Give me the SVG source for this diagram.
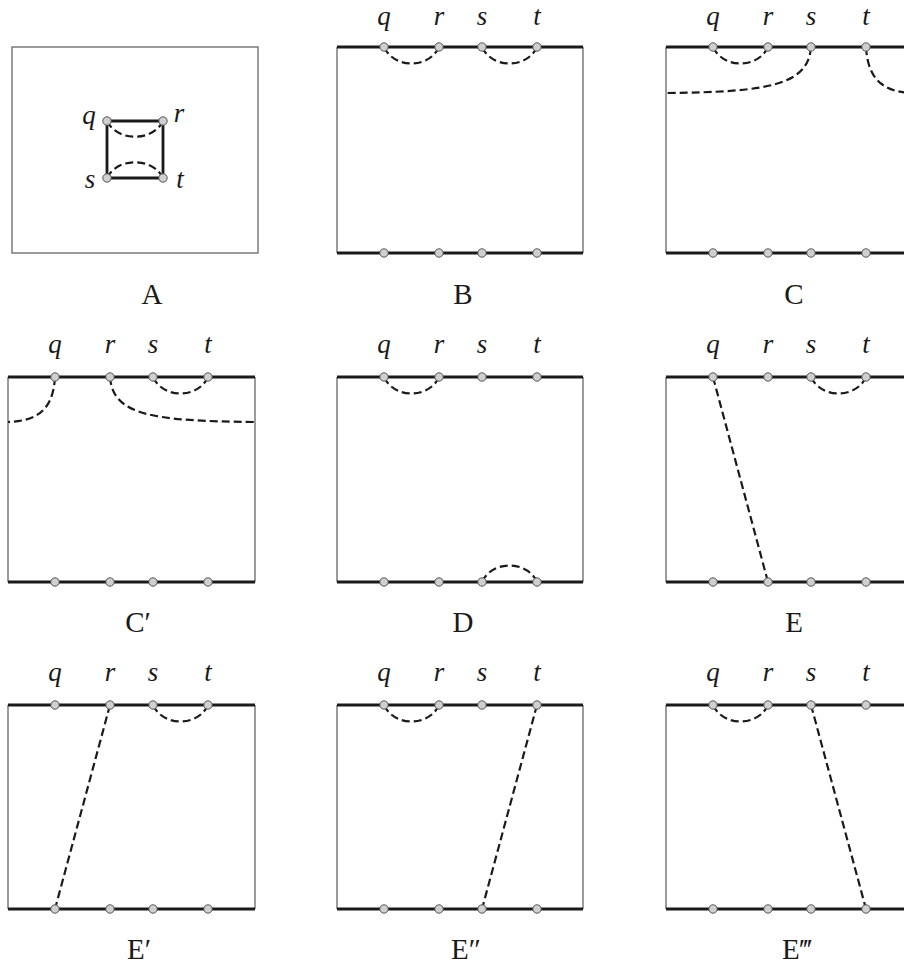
<svg xmlns="http://www.w3.org/2000/svg" width="904" height="969" viewBox="0 0 904 969">
<style>
.side{stroke:#666;stroke-width:1.3;fill:none}
.edge{stroke:#1a1a1a;stroke-width:2.8;fill:none}
.dash{stroke:#1a1a1a;stroke-width:2.2;fill:none;stroke-dasharray:8 4}
.nd{fill:#cfcfcf;stroke:#555;stroke-width:1}
.var{font-family:"Liberation Serif",serif;font-style:italic;font-size:27px;fill:#1a1a1a;text-anchor:middle}
.lab{font-family:"Liberation Serif",serif;font-size:29px;fill:#1a1a1a;text-anchor:middle}
</style>
<rect width="904" height="969" fill="#fff"/>

<!-- Panel A -->
<g id="panelA">
<rect x="12" y="47" width="246" height="206" class="side"/>
<path d="M107,121 H163 V178 H107 Z" class="edge"/>
<path d="M107,121 C117,142 153,142 163,121" class="dash"/>
<path d="M107,178 C117,157 153,157 163,178" class="dash"/>
<circle cx="107" cy="121" r="4.2" class="nd"/><circle cx="163" cy="121" r="4.2" class="nd"/>
<circle cx="107" cy="178" r="4.2" class="nd"/><circle cx="163" cy="178" r="4.2" class="nd"/>
<text x="89" y="124" class="var">q</text><text x="179" y="122" class="var">r</text>
<text x="90" y="188" class="var">s</text><text x="180" y="188" class="var">t</text>
<text x="152" y="304" class="lab">A</text>
</g>

<!-- Panel B -->
<g id="panelB">
<line x1="337" y1="47" x2="337" y2="253" class="side"/><line x1="583" y1="47" x2="583" y2="253" class="side"/>
<line x1="337" y1="47" x2="583" y2="47" class="edge"/><line x1="337" y1="253" x2="583" y2="253" class="edge"/>
<path d="M384,47 C394,69 429,69 439,47" class="dash"/>
<path d="M482,47 C492,69 527,69 537,47" class="dash"/>
<g><circle cx="384" cy="47" r="4.2" class="nd"/><circle cx="439" cy="47" r="4.2" class="nd"/><circle cx="482" cy="47" r="4.2" class="nd"/><circle cx="537" cy="47" r="4.2" class="nd"/>
<circle cx="384" cy="253" r="4.2" class="nd"/><circle cx="439" cy="253" r="4.2" class="nd"/><circle cx="482" cy="253" r="4.2" class="nd"/><circle cx="537" cy="253" r="4.2" class="nd"/></g>
<text x="384" y="25" class="var">q</text><text x="439" y="25" class="var">r</text><text x="482" y="25" class="var">s</text><text x="537" y="25" class="var">t</text>
<text x="463" y="304" class="lab">B</text>
</g>

<!-- Panel C -->
<g id="panelC">
<line x1="666" y1="47" x2="666" y2="253" class="side"/>
<line x1="666" y1="47" x2="912" y2="47" class="edge"/><line x1="666" y1="253" x2="912" y2="253" class="edge"/>
<path d="M713,47 C723,69 758,69 768,47" class="dash"/>
<path d="M811,47 C808,85 770,92 666,93" class="dash"/>
<path d="M866,47 C868,82 886,92 912,93" class="dash"/>
<g><circle cx="713" cy="47" r="4.2" class="nd"/><circle cx="768" cy="47" r="4.2" class="nd"/><circle cx="811" cy="47" r="4.2" class="nd"/><circle cx="866" cy="47" r="4.2" class="nd"/>
<circle cx="713" cy="253" r="4.2" class="nd"/><circle cx="768" cy="253" r="4.2" class="nd"/><circle cx="811" cy="253" r="4.2" class="nd"/><circle cx="866" cy="253" r="4.2" class="nd"/></g>
<text x="713" y="25" class="var">q</text><text x="768" y="25" class="var">r</text><text x="811" y="25" class="var">s</text><text x="866" y="25" class="var">t</text>
<text x="794" y="304" class="lab">C</text>
</g>

<!-- Panel C' -->
<g id="panelCp">
<line x1="8" y1="377" x2="8" y2="582" class="side"/><line x1="255" y1="377" x2="255" y2="582" class="side"/>
<line x1="8" y1="377" x2="255" y2="377" class="edge"/><line x1="8" y1="582" x2="255" y2="582" class="edge"/>
<path d="M55,377 C53,412 35,421 8,422" class="dash"/>
<path d="M110,377 C113,415 151,421 255,422" class="dash"/>
<path d="M153,377 C163,399 198,399 208,377" class="dash"/>
<g><circle cx="55" cy="377" r="4.2" class="nd"/><circle cx="110" cy="377" r="4.2" class="nd"/><circle cx="153" cy="377" r="4.2" class="nd"/><circle cx="208" cy="377" r="4.2" class="nd"/>
<circle cx="55" cy="582" r="4.2" class="nd"/><circle cx="110" cy="582" r="4.2" class="nd"/><circle cx="153" cy="582" r="4.2" class="nd"/><circle cx="208" cy="582" r="4.2" class="nd"/></g>
<text x="55" y="353" class="var">q</text><text x="110" y="353" class="var">r</text><text x="153" y="353" class="var">s</text><text x="208" y="353" class="var">t</text>
<text x="138" y="632" class="lab">C′</text>
</g>

<!-- Panel D -->
<g id="panelD">
<line x1="337" y1="377" x2="337" y2="582" class="side"/><line x1="583" y1="377" x2="583" y2="582" class="side"/>
<line x1="337" y1="377" x2="583" y2="377" class="edge"/><line x1="337" y1="582" x2="583" y2="582" class="edge"/>
<path d="M384,377 C394,399 429,399 439,377" class="dash"/>
<path d="M482,582 C492,560 527,560 537,582" class="dash"/>
<g><circle cx="384" cy="377" r="4.2" class="nd"/><circle cx="439" cy="377" r="4.2" class="nd"/><circle cx="482" cy="377" r="4.2" class="nd"/><circle cx="537" cy="377" r="4.2" class="nd"/>
<circle cx="384" cy="582" r="4.2" class="nd"/><circle cx="439" cy="582" r="4.2" class="nd"/><circle cx="482" cy="582" r="4.2" class="nd"/><circle cx="537" cy="582" r="4.2" class="nd"/></g>
<text x="384" y="353" class="var">q</text><text x="439" y="353" class="var">r</text><text x="482" y="353" class="var">s</text><text x="537" y="353" class="var">t</text>
<text x="463" y="632" class="lab">D</text>
</g>

<!-- Panel E -->
<g id="panelE">
<line x1="666" y1="377" x2="666" y2="582" class="side"/>
<line x1="666" y1="377" x2="912" y2="377" class="edge"/><line x1="666" y1="582" x2="912" y2="582" class="edge"/>
<path d="M713,377 L768,582" class="dash"/>
<path d="M811,377 C821,399 856,399 866,377" class="dash"/>
<g><circle cx="713" cy="377" r="4.2" class="nd"/><circle cx="768" cy="377" r="4.2" class="nd"/><circle cx="811" cy="377" r="4.2" class="nd"/><circle cx="866" cy="377" r="4.2" class="nd"/>
<circle cx="713" cy="582" r="4.2" class="nd"/><circle cx="768" cy="582" r="4.2" class="nd"/><circle cx="811" cy="582" r="4.2" class="nd"/><circle cx="866" cy="582" r="4.2" class="nd"/></g>
<text x="713" y="353" class="var">q</text><text x="768" y="353" class="var">r</text><text x="811" y="353" class="var">s</text><text x="866" y="353" class="var">t</text>
<text x="794" y="632" class="lab">E</text>
</g>

<!-- Panel E' -->
<g id="panelEp">
<line x1="8" y1="705" x2="8" y2="909" class="side"/><line x1="255" y1="705" x2="255" y2="909" class="side"/>
<line x1="8" y1="705" x2="255" y2="705" class="edge"/><line x1="8" y1="909" x2="255" y2="909" class="edge"/>
<path d="M110,705 L55,909" class="dash"/>
<path d="M153,705 C163,727 198,727 208,705" class="dash"/>
<g><circle cx="55" cy="705" r="4.2" class="nd"/><circle cx="110" cy="705" r="4.2" class="nd"/><circle cx="153" cy="705" r="4.2" class="nd"/><circle cx="208" cy="705" r="4.2" class="nd"/>
<circle cx="55" cy="909" r="4.2" class="nd"/><circle cx="110" cy="909" r="4.2" class="nd"/><circle cx="153" cy="909" r="4.2" class="nd"/><circle cx="208" cy="909" r="4.2" class="nd"/></g>
<text x="55" y="681" class="var">q</text><text x="110" y="681" class="var">r</text><text x="153" y="681" class="var">s</text><text x="208" y="681" class="var">t</text>
<text x="139" y="959" class="lab">E′</text>
</g>

<!-- Panel E'' -->
<g id="panelEpp">
<line x1="337" y1="705" x2="337" y2="909" class="side"/><line x1="583" y1="705" x2="583" y2="909" class="side"/>
<line x1="337" y1="705" x2="583" y2="705" class="edge"/><line x1="337" y1="909" x2="583" y2="909" class="edge"/>
<path d="M384,705 C394,727 429,727 439,705" class="dash"/>
<path d="M537,705 L482,909" class="dash"/>
<g><circle cx="384" cy="705" r="4.2" class="nd"/><circle cx="439" cy="705" r="4.2" class="nd"/><circle cx="482" cy="705" r="4.2" class="nd"/><circle cx="537" cy="705" r="4.2" class="nd"/>
<circle cx="384" cy="909" r="4.2" class="nd"/><circle cx="439" cy="909" r="4.2" class="nd"/><circle cx="482" cy="909" r="4.2" class="nd"/><circle cx="537" cy="909" r="4.2" class="nd"/></g>
<text x="384" y="681" class="var">q</text><text x="439" y="681" class="var">r</text><text x="482" y="681" class="var">s</text><text x="537" y="681" class="var">t</text>
<text x="466" y="959" class="lab">E″</text>
</g>

<!-- Panel E''' -->
<g id="panelEppp">
<line x1="666" y1="705" x2="666" y2="909" class="side"/>
<line x1="666" y1="705" x2="912" y2="705" class="edge"/><line x1="666" y1="909" x2="912" y2="909" class="edge"/>
<path d="M713,705 C723,727 758,727 768,705" class="dash"/>
<path d="M811,705 L866,909" class="dash"/>
<g><circle cx="713" cy="705" r="4.2" class="nd"/><circle cx="768" cy="705" r="4.2" class="nd"/><circle cx="811" cy="705" r="4.2" class="nd"/><circle cx="866" cy="705" r="4.2" class="nd"/>
<circle cx="713" cy="909" r="4.2" class="nd"/><circle cx="768" cy="909" r="4.2" class="nd"/><circle cx="811" cy="909" r="4.2" class="nd"/><circle cx="866" cy="909" r="4.2" class="nd"/></g>
<text x="713" y="681" class="var">q</text><text x="768" y="681" class="var">r</text><text x="811" y="681" class="var">s</text><text x="866" y="681" class="var">t</text>
<text x="797" y="959" class="lab">E‴</text>
</g>
</svg>
